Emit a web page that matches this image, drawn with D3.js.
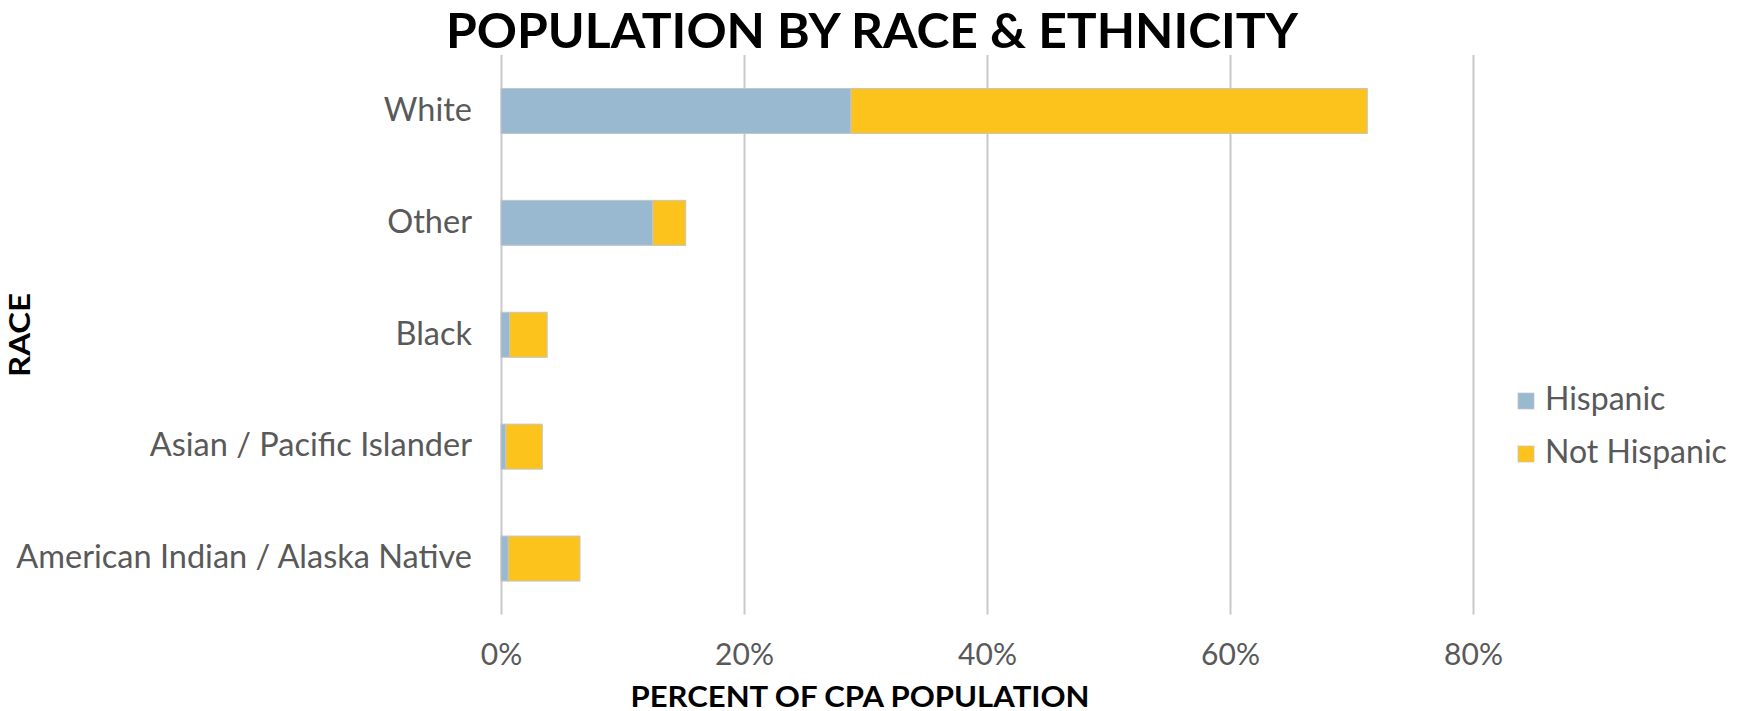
<!DOCTYPE html>
<html>
<head>
<meta charset="utf-8">
<script src="https://cdn.jsdelivr.net/npm/d3@7"></script>
<style>
  body { margin: 0; background: #fff; }
  text { font-family: Lato, 'Open Sans', sans-serif; }
  .tick text { fill: #595959; font-size: 30px; }
  .y-axis .tick text { font-size: 32.5px; }
  .tick line { stroke: #c9c9c9; stroke-width: 2px; }
  .title { font-size: 47px; font-weight: 700; fill: #000; }
  .axis-label { font-size: 29px; font-weight: 700; fill: #000; }
  .legend text { font-size: 32px; fill: #595959; }
</style>
</head>
<body>
<svg width="1737" height="711"></svg>
<script>
const races = ['White', 'Other', 'Black', 'Asian / Pacific Islander', 'American Indian / Alaska Native'];
const seriesNames = ['Hispanic', 'Not Hispanic'];
const hispanic = [28.8, 12.5, 0.7, 0.4, 0.6];
const notHispanic = [42.5, 2.7, 3.1, 3.0, 5.9];
const xTicks = [0, 20, 40, 60, 80];

const svg = d3.select('svg');
const width = +svg.attr('width');
const height = +svg.attr('height');

const colors = ['#98b9d0', '#fdc31d'];

const title = 'POPULATION BY RACE & ETHNICITY';
const xAxisLabel = 'PERCENT OF CPA POPULATION';
const yAxisLabel = 'RACE';

const margin = { top: 55, right: 264, bottom: 96.5, left: 501 };
const innerWidth = width - margin.left - margin.right;
const innerHeight = height - margin.top - margin.bottom;

const data = races.map((r, i) => ({ race: r, Hispanic: hispanic[i], 'Not Hispanic': notHispanic[i] }));
const stacked = d3.stack().keys(seriesNames)(data);

const xScale = d3.scaleLinear()
    .domain([0, 80])
    .range([0, innerWidth]);

const yScale = d3.scaleBand()
    .domain(races)
    .range([0, innerHeight])
    .paddingInner(0.598)
    .paddingOuter(0.299);

const g = svg.append('g')
    .attr('transform', `translate(${margin.left}, ${margin.top})`);

const xAxis = d3.axisBottom(xScale)
    .tickValues(xTicks)
    .tickFormat(d => d + '%')
    .tickSize(-innerHeight)
    .tickPadding(29);

const xAxisG = g.append('g').call(xAxis)
    .attr('transform', `translate(0, ${innerHeight})`);
xAxisG.select('.domain').remove();
xAxisG.selectAll('.tick text').attr('font-family', null);

const yAxis = d3.axisLeft(yScale)
    .tickSize(0)
    .tickPadding(29);

const yAxisG = g.append('g').attr('class', 'y-axis').call(yAxis);
yAxisG.select('.domain').remove();
yAxisG.selectAll('.tick text').attr('font-family', null).attr('dy', '0.3em');

g.selectAll('.series').data(stacked)
  .enter().append('g')
    .attr('class', 'series')
    .attr('fill', (d, i) => colors[i])
  .selectAll('rect').data(d => d)
  .enter().append('rect')
    .attr('x', d => xScale(d[0]))
    .attr('y', d => yScale(d.data.race))
    .attr('width', d => xScale(d[1]) - xScale(d[0]))
    .attr('height', yScale.bandwidth())
    .attr('stroke', '#c4c4c4')
    .attr('stroke-width', 1);

svg.append('text')
    .attr('class', 'title')
    .attr('text-anchor', 'middle')
    .attr('x', 872)
    .attr('y', 48)
    .attr('textLength', 852)
    .attr('lengthAdjust', 'spacingAndGlyphs')
    .text(title);

svg.append('text')
    .attr('class', 'axis-label')
    .attr('text-anchor', 'middle')
    .attr('x', 860)
    .attr('y', 707)
    .attr('textLength', 459)
    .attr('lengthAdjust', 'spacingAndGlyphs')
    .text(xAxisLabel);

svg.append('text')
    .attr('class', 'axis-label')
    .attr('text-anchor', 'middle')
    .attr('transform', 'translate(30, 335) rotate(-90)')
    .attr('textLength', 84)
    .attr('lengthAdjust', 'spacingAndGlyphs')
    .text(yAxisLabel);

const legend = svg.append('g')
    .attr('class', 'legend')
    .attr('transform', 'translate(1518, 393)');

const legendItem = legend.selectAll('g').data(seriesNames)
  .enter().append('g')
    .attr('transform', (d, i) => `translate(0, ${i * 53})`);

legendItem.append('rect')
    .attr('width', 16)
    .attr('height', 16)
    .attr('fill', (d, i) => colors[i])
    .attr('stroke', '#c4c4c4')
    .attr('stroke-width', 0.75);

legendItem.append('text')
    .attr('x', 27)
    .attr('y', 17)
    .text(d => d);
</script>
</body>
</html>
